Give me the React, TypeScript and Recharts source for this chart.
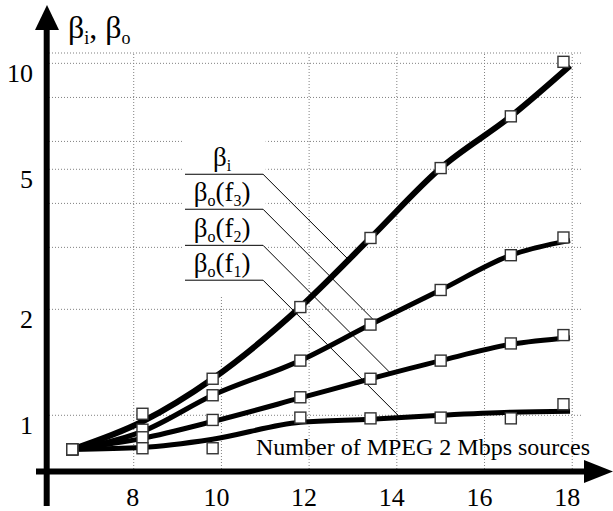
import React from "react";
import {
  ComposedChart,
  Line,
  Scatter,
  XAxis,
  YAxis,
  CartesianGrid,
  ReferenceLine,
  ReferenceArea,
} from "recharts";

// x positions of the fitted curves and of the measured squares
const curveX = [6.6, 8.2, 9.8, 11.8, 13.4, 15.0, 16.6, 17.95];
const pointX = [6.6, 8.2, 9.8, 11.8, 13.4, 15.0, 16.6, 17.8];

const betaICurve = [0.8, 0.96, 1.27, 2.03, 3.19, 5.04, 7.07, 9.85];
const betaIPoints = [0.8, 1.01, 1.27, 2.03, 3.19, 5.04, 7.07, 10.1];
const f3Curve = [0.8, 0.9, 1.14, 1.43, 1.81, 2.27, 2.85, 3.14];
const f3Points = [0.8, 0.91, 1.14, 1.43, 1.81, 2.27, 2.85, 3.2];
const f2Curve = [0.8, 0.86, 0.96, 1.12, 1.27, 1.43, 1.59, 1.66];
const f2Points = [0.8, 0.866, 0.97, 1.125, 1.27, 1.43, 1.6, 1.69];
const f1Curve = [0.8, 0.81, 0.855, 0.955, 0.974, 1.0, 1.02, 1.026];
const f1Points = [0.8, 0.806, 0.806, 0.985, 0.98, 0.985, 0.98, 1.075];

const xTicks = [8, 10, 12, 14, 16, 18];
const yGridTicks = [1, 2, 3, 4, 5, 6, 7, 8, 9, 10];
const yLabelTicks = [1, 2, 5, 10];

// legend labels: subscript of beta, frequency index, underline y, leader end
const legendSub = ["i", "o", "o", "o"];
const legendFreq = ["", "3", "2", "1"];
const legendY = [4.84, 3.85, 3.04, 2.42];
const leaderEndX = [12.91, 13.48, 13.85, 14.03];
const leaderEndY = [2.76, 1.86, 1.32, 1.0];

const toPts = (xs: number[], ys: number[]) => xs.map((x, i) => ({ x, y: ys[i] }));

const series = [
  { curve: toPts(curveX, betaICurve), points: toPts(pointX, betaIPoints), width: 6 },
  { curve: toPts(curveX, f3Curve), points: toPts(pointX, f3Points), width: 5 },
  { curve: toPts(curveX, f2Curve), points: toPts(pointX, f2Points), width: 5 },
  { curve: toPts(curveX, f1Curve), points: toPts(pointX, f1Points), width: 5 },
];

const SERIF =
  "'Liberation Serif', 'Times New Roman', Times, 'Nimbus Roman', 'Nimbus Roman No9 L', 'FreeSerif', 'Noto Serif', 'DejaVu Serif', serif";
const gridStroke = "#808080";

function YTick(props: any) {
  const { x, y, payload } = props;
  if (!yLabelTicks.includes(payload.value)) return <g />;
  return (
    <text x={x - 13} y={y + 19} textAnchor="end" fontFamily={SERIF} fontSize={26} fill="#000">
      {payload.value}
    </text>
  );
}

function XTick(props: any) {
  const { x, y, payload } = props;
  return (
    <text x={x - (payload.value >= 10 ? 5 : 1)} y={y + 34} textAnchor="middle" fontFamily={SERIF} fontSize={26} fill="#000">
      {payload.value}
    </text>
  );
}

function Square(props: any) {
  const { cx, cy } = props;
  if (cx == null || cy == null) return <g />;
  return <rect x={cx - 5.5} y={cy - 5.5} width={11} height={11} fill="#fff" stroke="#333" strokeWidth={1.4} />;
}

function legendLabel(i: number) {
  return (props: any) => {
    const vb = props.viewBox || {};
    const cx = vb.x + (vb.width || 0) / 2 - 2;
    return (
      <text x={cx} y={vb.y - 8} textAnchor="middle" fontFamily={SERIF} fontSize={27} fill="#000">
        β
        <tspan fontSize={16} dy={5}>{legendSub[i]}</tspan>
        {legendFreq[i] ? (
          <>
            <tspan dy={-5}>(f</tspan>
            <tspan fontSize={16} dy={5}>{legendFreq[i]}</tspan>
            <tspan dy={-5}>)</tspan>
          </>
        ) : null}
      </text>
    );
  };
}

export default function App() {
  return (
    <div
      style={{
        position: "absolute",
        left: 0,
        top: 0,
        width: 613,
        height: 511,
        background: "#fff",
        fontFamily: SERIF,
      }}
    >
      <ComposedChart width={613} height={511} margin={{ top: 53, right: 32, bottom: 9, left: 0 }}>
        <CartesianGrid vertical={false} stroke={gridStroke} strokeDasharray="1 2" />
        <XAxis
          dataKey="x"
          type="number"
          domain={[6, 18.2]}
          allowDataOverflow
          ticks={xTicks}
          axisLine={false}
          tickLine={false}
          tickSize={0}
          tickMargin={0}
          height={30}
          tick={<XTick />}
        />
        <YAxis
          dataKey="y"
          type="number"
          scale="log"
          domain={[0.69, 10.7]}
          allowDataOverflow
          ticks={yGridTicks}
          axisLine={false}
          tickLine={false}
          tickSize={0}
          tickMargin={0}
          width={46}
          tick={<YTick />}
        />
        {xTicks
          .filter((t) => t !== 10)
          .map((t) => (
            <ReferenceLine key={"vg" + t} x={t} stroke={gridStroke} strokeDasharray="1 2" />
          ))}
        <ReferenceLine
          segment={[
            { x: 10, y: 0.69 },
            { x: 10, y: 2.19 },
          ]}
          stroke={gridStroke}
          strokeDasharray="1 2"
        />
        <ReferenceArea x1={9.1} x2={11.01} y1={2.22} y2={6.54} fill="#fff" fillOpacity={1} stroke="none" />
        {legendY.map((ly, i) => (
          <ReferenceLine
            key={"ul" + i}
            segment={[
              { x: 9.17, y: ly },
              { x: 10.95, y: ly },
            ]}
            stroke="#000"
            strokeWidth={1}
            label={legendLabel(i)}
          />
        ))}
        {legendY.map((ly, i) => (
          <ReferenceLine
            key={"ld" + i}
            segment={[
              { x: 10.95, y: ly },
              { x: leaderEndX[i], y: leaderEndY[i] },
            ]}
            stroke="#000"
            strokeWidth={1}
          />
        ))}
        {series.map((s, i) => (
          <Line
            key={"c" + i}
            data={s.curve}
            dataKey="y"
            type="monotone"
            stroke="#000"
            strokeWidth={s.width}
            dot={false}
            activeDot={false}
            isAnimationActive={false}
          />
        ))}
        {series.map((s, i) => (
          <Scatter key={"p" + i} data={s.points} shape={<Square />} isAnimationActive={false} />
        ))}
      </ComposedChart>
      <svg width={613} height={511} style={{ position: "absolute", left: 0, top: 0, pointerEvents: "none" }}>
        <line x1={46.7} y1={26} x2={46.7} y2={506} stroke="#000" strokeWidth={6} />
        <polygon points="47,5 35,30 59,30" fill="#000" />
        <line x1={36} y1={471.5} x2={590} y2={471.5} stroke="#000" strokeWidth={6} />
        <polygon points="584,460 613,471.5 584,483" fill="#000" />
        <text x={68} y={38} fontFamily={SERIF} fontSize={32} fill="#000">
          β<tspan fontSize={18} dy={6}>i</tspan>
          <tspan dy={-6}>, β</tspan>
          <tspan fontSize={18} dy={6}>o</tspan>
        </text>
        <text x={590} y={455} textAnchor="end" fontFamily={SERIF} fontSize={24} fill="#000">
          Number of MPEG 2 Mbps sources
        </text>
      </svg>
    </div>
  );
}
